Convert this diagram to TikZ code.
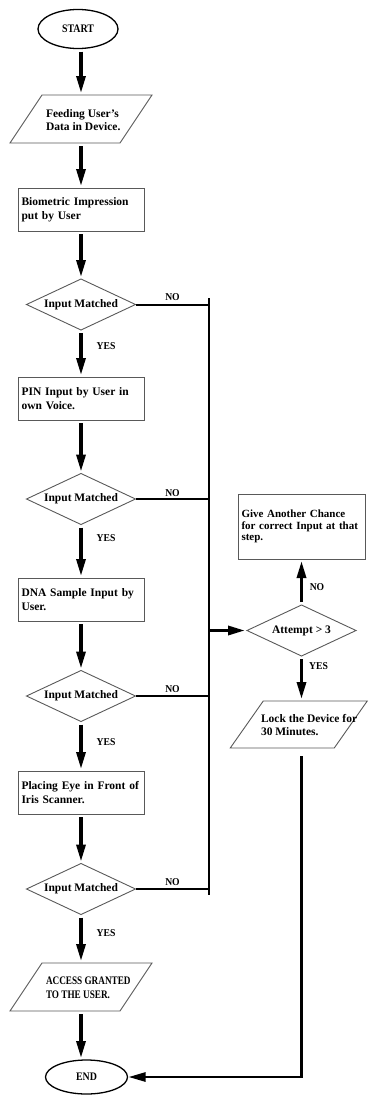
\documentclass[tikz,border=0pt]{standalone}
\usepackage{fontspec}
\setmainfont{Liberation Serif}
\newfontfamily\narrowA{Liberation Serif}[FakeStretch=0.8]
\newfontfamily\narrowB{Liberation Serif}[FakeStretch=0.86]
\newfontfamily\narrowC{Liberation Serif}[FakeStretch=0.92]
\usetikzlibrary{shapes.geometric,arrows.meta,calc}
\newcommand\drawpara[2]{\draw[paraline] ($(#1.north west)+(#2,0)$) -- ($(#1.north east)+(#2,0)$) -- ($(#1.south east)+(-#2,0)$) -- ($(#1.south west)+(-#2,0)$) -- cycle;}
\begin{document}
\begin{tikzpicture}[x=1pt,y=-1pt,
  font=\fontsize{11.5}{13.5}\selectfont\bfseries,
  every node/.style={inner sep=0pt, outer sep=0pt},
  term/.style={ellipse, draw=black, line width=1.3pt, minimum width=80pt, minimum height=39pt, font=\narrowB\fontsize{11.5}{13.5}\selectfont\bfseries},
  procbox/.style={rectangle, draw=black!65, line width=0.9pt, minimum width=126pt, minimum height=43pt, text width=119pt, align=left, inner xsep=3.5pt},
  decide/.style={diamond, draw=black!65, line width=0.9pt, minimum width=109pt, minimum height=51pt, aspect=2.14},
  ioframe/.style={rectangle, minimum width=110pt, minimum height=48pt},
  paraline/.style={draw=black!65, line width=0.9pt, line join=miter},
  iotext/.style={align=left, anchor=west},
  arr/.style={line width=3.2pt, -{Triangle[length=17pt,width=9pt]}, shorten <=3pt, shorten >=2pt},
  conn/.style={line width=2pt},
  lbl/.style={font=\narrowC\fontsize{10.5}{12}\selectfont\bfseries},
]
\useasboundingbox (0,0) rectangle (368,1095);
% main column
\node[term] (start) at (78,29) {START};
\node[ioframe] (feed) at (81,119) {};
\drawpara{feed}{16}
\node[iotext] (feedt) at (46,120) {Feeding User's\\Data in Device.};
\node[procbox] (bio) at (81,209.5) {Biometric Impression\\put by User};
\node[decide] (d1) at (81,304.5) {Input Matched};
\node[procbox] (pin) at (81,398.5) {PIN Input by User in\\own Voice.};
\node[decide] (d2) at (81,499) {Input Matched};
\node[procbox] (dna) at (81,599.5) {DNA Sample Input by\\User.};
\node[decide] (d3) at (81,696) {Input Matched};
\node[procbox] (iris) at (81,792.5) {Placing Eye in Front of\\Iris Scanner.};
\node[decide] (d4) at (81,889) {Input Matched};
\node[ioframe] (acc) at (81,987) {};
\drawpara{acc}{16}
\node[iotext, font=\narrowA\fontsize{11.5}{13.5}\selectfont\bfseries] (acct) at (46,988) {ACCESS GRANTED\\TO THE USER.};
\node[term, minimum width=82pt, minimum height=34pt] (end) at (86.5,1077) {END};
% right column
\node[procbox, minimum width=127pt, minimum height=65pt, text width=120pt, font=\fontsize{11}{11.7}\selectfont\bfseries] (give) at (301.5,526.5) {Give Another Chance\\for correct Input at that\\step.};
\node[decide] (att) at (301.5,630.5) {Attempt > 3};
\node[ioframe, minimum width=104pt, minimum height=47pt] (lock) at (298.75,724.5) {};
\drawpara{lock}{16.5}
\node[iotext] (lockt) at (261,725) {Lock the Device for\\30 Minutes.};
% bus
\coordinate (bustop) at (209,298);
\coordinate (busbot) at (209,895);
\draw[conn] (bustop) -- (busbot);
\foreach \d in {d1,d2,d3,d4} \draw[conn] (\d.east) -- (\d.east -| bustop);
% labels
\node[lbl] (no1) at (172.5,297) {NO};
\node[lbl] (no2) at (172.5,493) {NO};
\node[lbl] (no3) at (172.5,689) {NO};
\node[lbl] (no4) at (172.5,882) {NO};
\node[lbl] (yes1) at (106,346) {YES};
\node[lbl] (yes2) at (106,538) {YES};
\node[lbl] (yes3) at (106,742) {YES};
\node[lbl] (yes4) at (106,933) {YES};
\node[lbl] (no5) at (317,587) {NO};
\node[lbl] (yes5) at (318.5,666) {YES};
% arrows
\draw[arr] (start.south -| feed.north) -- (feed.north);
\draw[arr] (feed.south) -- (bio.north);
\draw[arr] (bio.south) -- (d1.north);
\draw[arr] (d1.south) -- (pin.north);
\draw[arr] (pin.south) -- (d2.north);
\draw[arr] (d2.south) -- (dna.north);
\draw[arr] (dna.south) -- (d3.north);
\draw[arr] (d3.south) -- (iris.north);
\draw[arr] (iris.south) -- (d4.north);
\draw[arr] (d4.south) -- (acc.north);
\draw[arr] (acc.south) -- (acc.south |- end.north);
\draw[arr, shorten <=0pt] (att.west -| bustop) -- (att.west);
\draw[arr] (att.north) -- (give.south);
\draw[arr] (att.south) -- (att.south |- lock.north);
\draw[line width=2.5pt, -{Triangle[length=17pt,width=9pt]}, shorten <=8pt, shorten >=1pt] (att.south |- lock.south) |- (end.east);
\end{tikzpicture}
\end{document}
